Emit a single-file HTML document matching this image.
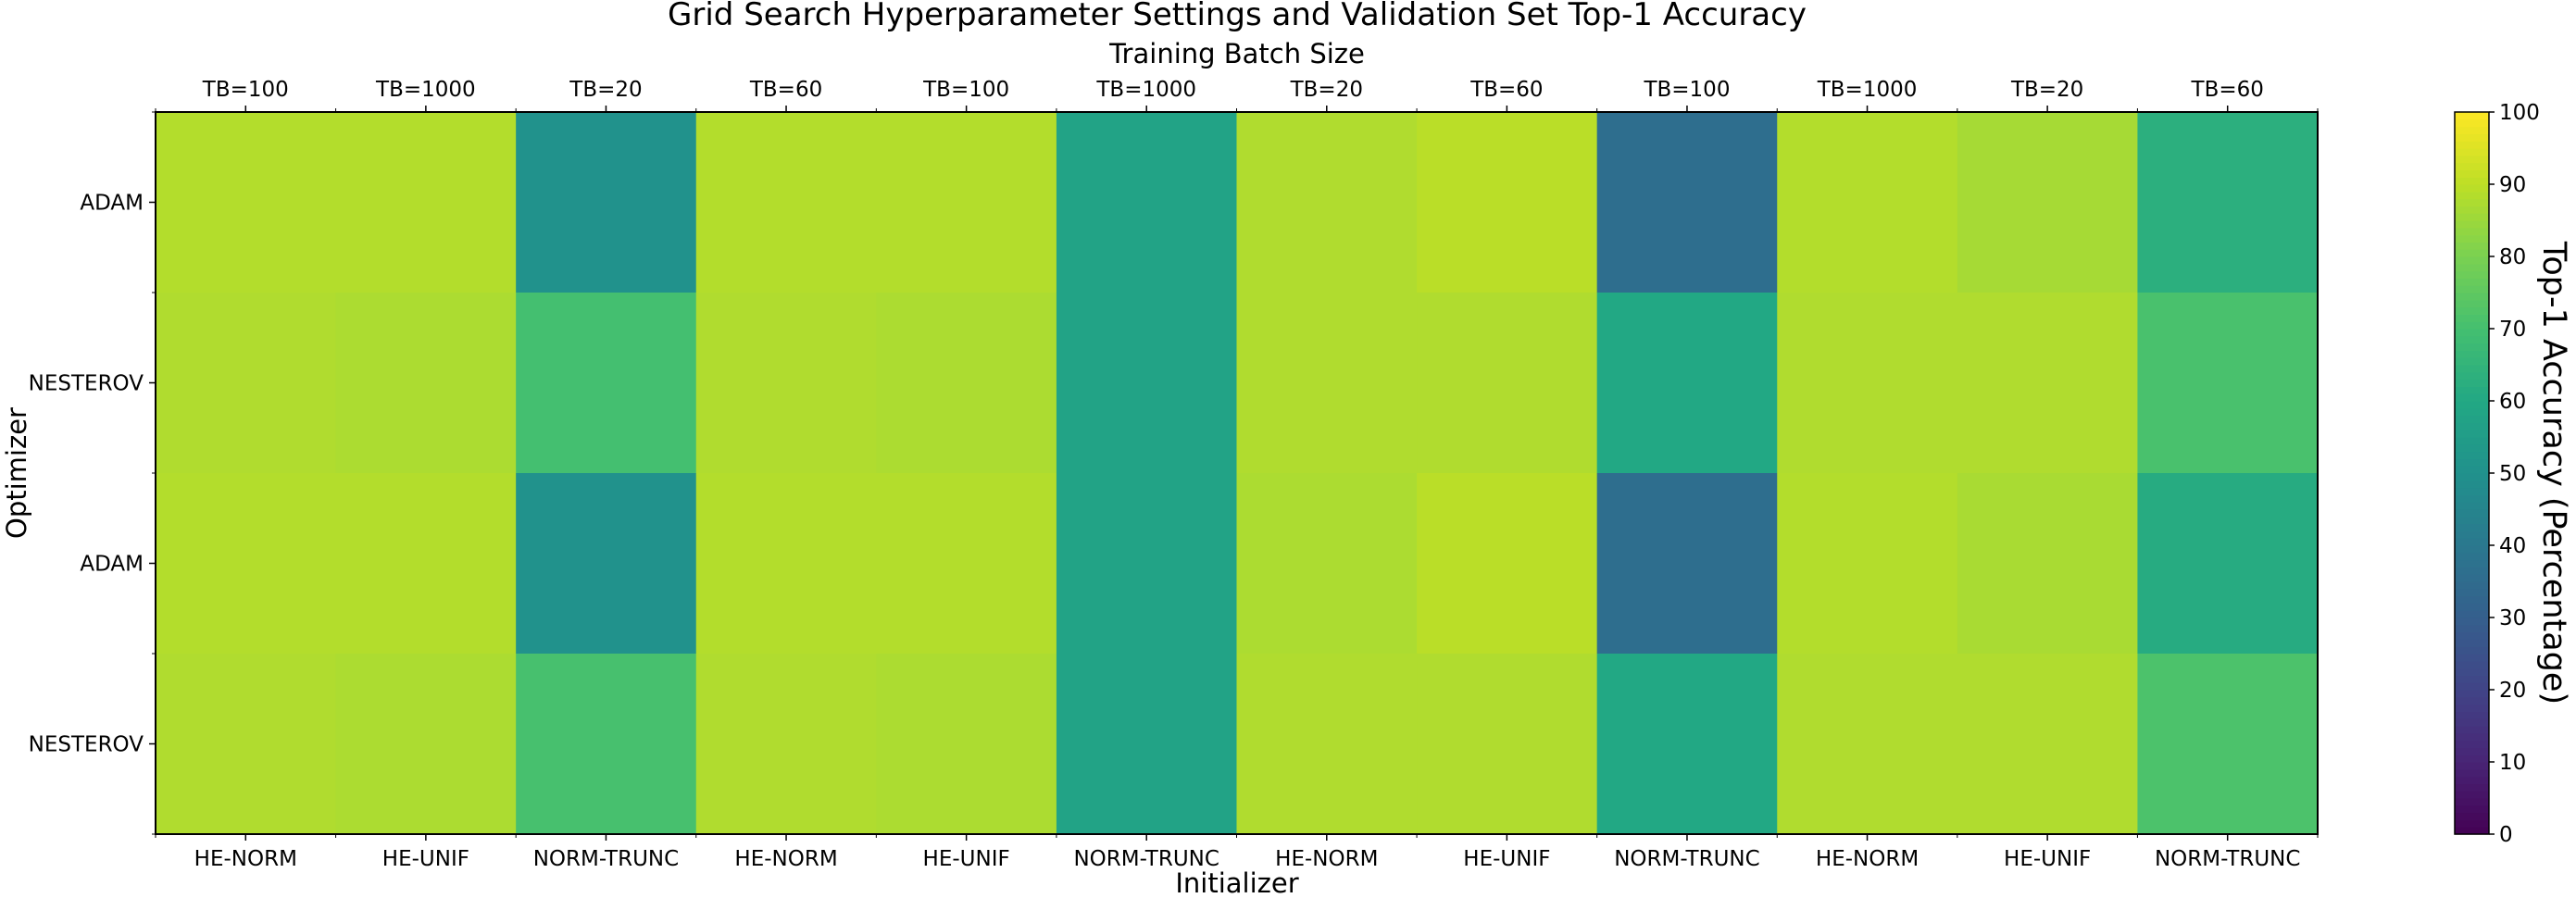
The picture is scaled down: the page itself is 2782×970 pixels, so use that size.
<!DOCTYPE html>
<html><head><meta charset="utf-8"><style>
html,body{margin:0;padding:0;background:#fff;}
svg{display:block;font-family:"DejaVu Sans","Liberation Sans",sans-serif;}
</style></head><body>
<svg id="chart" width="2782" height="970" viewBox="0 0 2782 970" xmlns="http://www.w3.org/2000/svg">
<text x="1336" y="27" font-size="34" text-anchor="middle">Grid Search Hyperparameter Settings and Validation Set Top-1 Accuracy</text>
<text x="1336" y="68" font-size="29" text-anchor="middle">Training Batch Size</text>
<text x="1336" y="964" font-size="29" text-anchor="middle">Initializer</text>
<text x="0" y="0" font-size="29" text-anchor="middle" transform="translate(28,511) rotate(-90)">Optimizer</text>
<text x="0" y="0" font-size="35" text-anchor="middle" transform="translate(2747,511) rotate(90)">Top-1 Accuracy (Percentage)</text>
<g id="cells"></g><g id="axes"></g><g id="cbar"></g>
</svg>
<script>
const batchLabels = ["TB=100","TB=1000","TB=20","TB=60","TB=100","TB=1000","TB=20","TB=60","TB=100","TB=1000","TB=20","TB=60"];
const initLabels = ["HE-NORM","HE-UNIF","NORM-TRUNC","HE-NORM","HE-UNIF","NORM-TRUNC","HE-NORM","HE-UNIF","NORM-TRUNC","HE-NORM","HE-UNIF","NORM-TRUNC"];
const optLabels = ["ADAM","NESTEROV","ADAM","NESTEROV"];
const row0 = [88.5,88.5,50.5,88.5,88.5,58,88,89.5,36,88.5,86.5,63];
const row1 = [88,87.5,70,88,87.5,58,88,88,60,88,88,71];
const row2 = [88.5,88.5,50.5,88.5,88.5,58,87.5,89.5,36,88.5,87,61.5];
const row3 = [88,87.5,70.5,88,87.5,58,88,88,60,88,88,71.5];
const values = [row0,row1,row2,row3];
const cbTicks = [0,10,20,30,40,50,60,70,80,90,100];

const NS="http://www.w3.org/2000/svg";
const L=168,R=2503,T=121,B=901,vmin=0,vmax=100;
const nC=batchLabels.length,nR=optLabels.length;
const cw=(R-L)/nC,rh=(B-T)/nR;
const xAt=i=>L+i*cw, yAt=j=>T+j*rh;
const cbL=2651,cbR=2688;
const cbY=v=>B-(v-vmin)/(vmax-vmin)*(B-T);
const vir=[[68,1,84],[72,36,117],[65,68,135],[53,95,141],[42,120,142],[33,145,140],[34,168,132],[68,191,112],[122,209,81],[189,223,38],[253,231,37]];
function color(v){let t=Math.max(0,Math.min(1,(v-vmin)/(vmax-vmin)))*(vir.length-1);let i=Math.min(Math.floor(t),vir.length-2),f=t-i;const c=vir[i].map((a,k)=>Math.round(a+(vir[i+1][k]-a)*f));return `rgb(${c[0]},${c[1]},${c[2]})`;}
function mk(tag,attrs,parent,txt){const e=document.createElementNS(NS,tag);for(const k in attrs)e.setAttribute(k,attrs[k]);if(txt!==undefined)e.textContent=txt;parent.appendChild(e);return e;}
const cells=document.getElementById('cells'),axes=document.getElementById('axes'),cbar=document.getElementById('cbar');
values.forEach((row,j)=>row.forEach((v,i)=>{
 const r=mk('rect',{x:xAt(i),y:yAt(j),width:cw+0.5,height:rh+0.5,fill:color(v)},cells);
 
 
}));
mk('rect',{x:L,y:T,width:R-L,height:B-T,fill:'none',stroke:'#000','stroke-width':2},axes);
batchLabels.forEach((s,i)=>{
 const cx=xAt(i+0.5);
 mk('line',{x1:cx,y1:T,x2:cx,y2:T-7,stroke:'#000','stroke-width':1.5},axes);
 mk('line',{x1:cx,y1:B,x2:cx,y2:B+7,stroke:'#000','stroke-width':1.5},axes);
 const t=mk('text',{x:cx,y:T-17,'font-size':23,'text-anchor':'middle'},axes,s);
 
 
 const b=mk('text',{x:cx,y:B+34,'font-size':23,'text-anchor':'middle'},axes,initLabels[i]);
 
 
});
for(let i=0;i<=nC;i++){const x=xAt(i);mk('line',{x1:x,y1:T,x2:x,y2:T-4,stroke:'#000','stroke-width':1},axes);mk('line',{x1:x,y1:B,x2:x,y2:B+4,stroke:'#000','stroke-width':1},axes);}
for(let j=0;j<=nR;j++){const y=yAt(j);mk('line',{x1:L,y1:y,x2:L-4,y2:y,stroke:'#000','stroke-width':1},axes);}
optLabels.forEach((s,j)=>{
 const cy=yAt(j+0.5);
 mk('line',{x1:L,y1:cy,x2:L-7,y2:cy,stroke:'#000','stroke-width':1.5},axes);
 const t=mk('text',{x:L-13,y:cy+8,'font-size':23,'text-anchor':'end'},axes,s);
 
 
});
for(let k=0;k<100;k++){const v0=vmin+k*(vmax-vmin)/100,v1=v0+(vmax-vmin)/100;mk('rect',{x:cbL,y:cbY(v1),width:cbR-cbL,height:cbY(v0)-cbY(v1)+0.6,fill:color((v0+v1)/2)},cbar);}
const cbf=mk('rect',{x:cbL,y:T,width:cbR-cbL,height:B-T,fill:'none',stroke:'#000','stroke-width':1.5},cbar);


cbTicks.forEach(v=>{
 const y=cbY(v);
 mk('line',{x1:cbR,y1:y,x2:cbR+6,y2:y,stroke:'#000','stroke-width':1.5},cbar);
 const t=mk('text',{x:cbR+11,y:y+8,'font-size':23},cbar,String(v));
 
 
});
</script>
</body></html>
